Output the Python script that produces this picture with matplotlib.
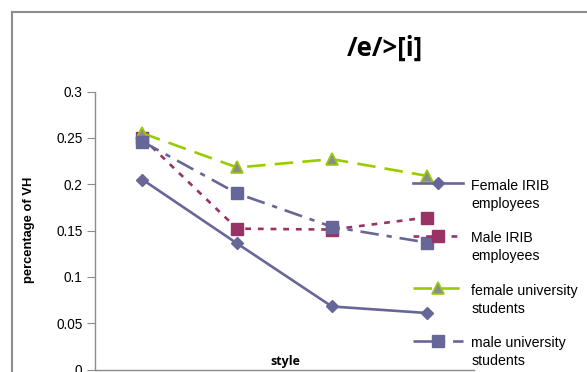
import matplotlib.pyplot as plt
from matplotlib.lines import Line2D
from matplotlib.transforms import ScaledTranslation

styles = [1, 2, 3, 4]
series_names = ["Female IRIB\nemployees", "Male IRIB\nemployees",
                "female university\nstudents", "male university\nstudents"]
female_irib = [0.205, 0.136, 0.068, 0.061]
male_irib = [0.250, 0.152, 0.151, 0.164]
female_univ = [0.255, 0.218, 0.227, 0.209]
male_univ = [0.246, 0.190, 0.154, 0.137]
y_ticks = [0, 0.05, 0.1, 0.15, 0.2, 0.25, 0.3]
y_tick_labels = ["0", "0.05", "0.1", "0.15", "0.2", "0.25", "0.3"]

W, H = 587, 372
fig = plt.figure(figsize=(W / 100, H / 100), dpi=100)
ax = fig.add_axes([95 / W, 2.5 / H, 379 / W, 278 / H])

# chart area border (cropped on right and bottom)
fig.add_artist(Line2D([12 / W, 12 / W], [0, 1 - 12 / H], color="#8c8c8c", lw=1.5,
                      transform=fig.transFigure))
fig.add_artist(Line2D([12 / W, 1], [1 - 12 / H, 1 - 12 / H], color="#8c8c8c", lw=1.5,
                      transform=fig.transFigure))

lw = 1.9
ax.plot(styles, female_irib, color="#666699", lw=lw, ls="-", marker="D", ms=6,
        label=series_names[0], zorder=3)
ax.plot(styles, male_irib, color="#993366", lw=lw, ls=(0, (2.2, 2.6)), marker="s", ms=8,
        label=series_names[1], zorder=3)
ax.plot(styles, female_univ, color="#99cc00", lw=lw, ls=(0, (7, 3.5)), marker="^", ms=8,
        markerfacecolor="#8c8c8c", markeredgecolor="#99cc00", markeredgewidth=1.2,
        label=series_names[2], zorder=3)
ax.plot(styles, male_univ, color="#666699", lw=lw, ls=(0, (7, 3, 2, 3)), marker="s", ms=8,
        label=series_names[3], zorder=4)

ax.set_xlim(0.5, 4.5)
ax.set_ylim(0, 0.3)
ax.set_yticks(y_ticks)
ax.set_yticklabels(y_tick_labels, fontsize=9.8, family="Liberation Sans")
ax.set_xticks([])
for s in ["top", "right"]:
    ax.spines[s].set_visible(False)
for s in ["left", "bottom"]:
    ax.spines[s].set_color("#8c8c8c")
    ax.spines[s].set_linewidth(1.0)
ax.tick_params(axis="y", direction="out", length=6, color="#8c8c8c", pad=3)
ax.patch.set_alpha(0)

leg = ax.legend(loc="upper left", bbox_to_anchor=(413 / W, 1 - 179 / H),
                bbox_transform=fig.transFigure, frameon=False,
                prop={"family": "Liberation Sans", "size": 10.2},
                handlelength=3.5, handletextpad=0.6, labelspacing=1.45,
                borderpad=0, borderaxespad=0)
for t in leg.get_texts():
    t.set_linespacing(1.35)
# excel puts the legend key next to the first line of the label
for h in leg.legend_handles:
    h.set_transform(h.get_transform() + ScaledTranslation(0, 12 / 100, fig.dpi_scale_trans))

fig.text(385 / W, 1 - 48 / H, "/e/>[i]", fontsize=18.5, fontweight="bold",
         family="Open Sans", ha="center", va="center")
fig.text(29 / W, 1 - 230 / H, "percentage of VH", fontsize=9.3, fontweight="bold",
         family="Liberation Sans", rotation=90, ha="center", va="center")
fig.text(285 / W, 1 - 361 / H, "style", fontsize=9, fontweight="bold",
         family="Open Sans", ha="center", va="center")

fig.savefig("out.png", dpi=100)
